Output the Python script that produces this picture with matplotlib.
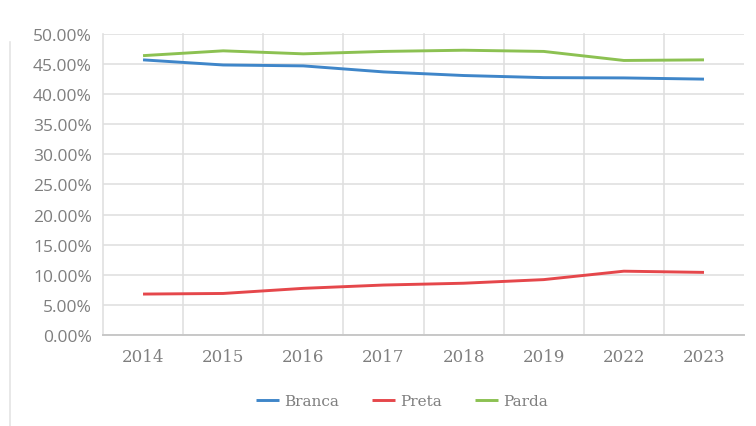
import matplotlib.pyplot as plt
from matplotlib.ticker import FuncFormatter, MultipleLocator

years = ['2014', '2015', '2016', '2017', '2018', '2019', '2022', '2023']
branca = [45.7, 44.85, 44.7, 43.7, 43.1, 42.75, 42.7, 42.5]
preta = [6.8, 6.9, 7.75, 8.3, 8.6, 9.2, 10.6, 10.4]
parda = [46.4, 47.2, 46.7, 47.1, 47.3, 47.1, 45.6, 45.7]

series_names = ['Branca', 'Preta', 'Parda']
series_colors = ['#3f86c9', '#e5474b', '#8cc152']

grid_col = '#e0e0e0'
text_col = '#7f7f7f'

fig = plt.figure(figsize=(7.56, 4.27), dpi=100)
ax = fig.add_axes([0.1362, 0.2131, 0.848, 0.705])

x = list(range(len(years)))
for vals, name, col in zip([branca, preta, parda], series_names, series_colors):
    ax.plot(x, vals, color=col, linewidth=2.1, label=name, solid_capstyle='butt')

ax.set_xlim(-0.5, len(years) - 0.5)
ax.set_ylim(0, 50)
ax.yaxis.set_major_locator(MultipleLocator(5))
ax.yaxis.set_major_formatter(FuncFormatter(lambda v, p: '{:.2f}%'.format(v)))
ax.grid(axis='y', color=grid_col, linewidth=1.2)

# vertical gridlines between categories (left edge included)
for b in range(len(years)):
    ax.axvline(b - 0.5, color=grid_col, linewidth=1.2, zorder=0, clip_on=False)

ax.set_xticks(x)
ax.set_xticklabels(years, family='DejaVu Serif', fontsize=12)
for lab in ax.get_yticklabels():
    lab.set_family('Open Sans')
    lab.set_fontsize(12.5)
ax.tick_params(axis='both', length=0, colors=text_col, pad=9)
ax.tick_params(axis='y', pad=8)

for s in ['top', 'right', 'left']:
    ax.spines[s].set_visible(False)
ax.spines['bottom'].set_color('#c8c8c8')
ax.spines['bottom'].set_linewidth(1.4)
ax.set_axisbelow(True)

# faint chart border on the left
fig.add_artist(plt.Line2D([0.0135, 0.0135], [0.0, 0.9], color='#e4e4e4', linewidth=1.2))

leg = fig.legend(loc='center', bbox_to_anchor=(402 / 756, 1 - 402 / 427), ncol=3,
                 frameon=False, handlelength=1.5, columnspacing=2.2, handletextpad=0.3,
                 prop={'family': 'DejaVu Serif', 'size': 11})
for t in leg.get_texts():
    t.set_color(text_col)

fig.savefig('out.png', dpi=100)
